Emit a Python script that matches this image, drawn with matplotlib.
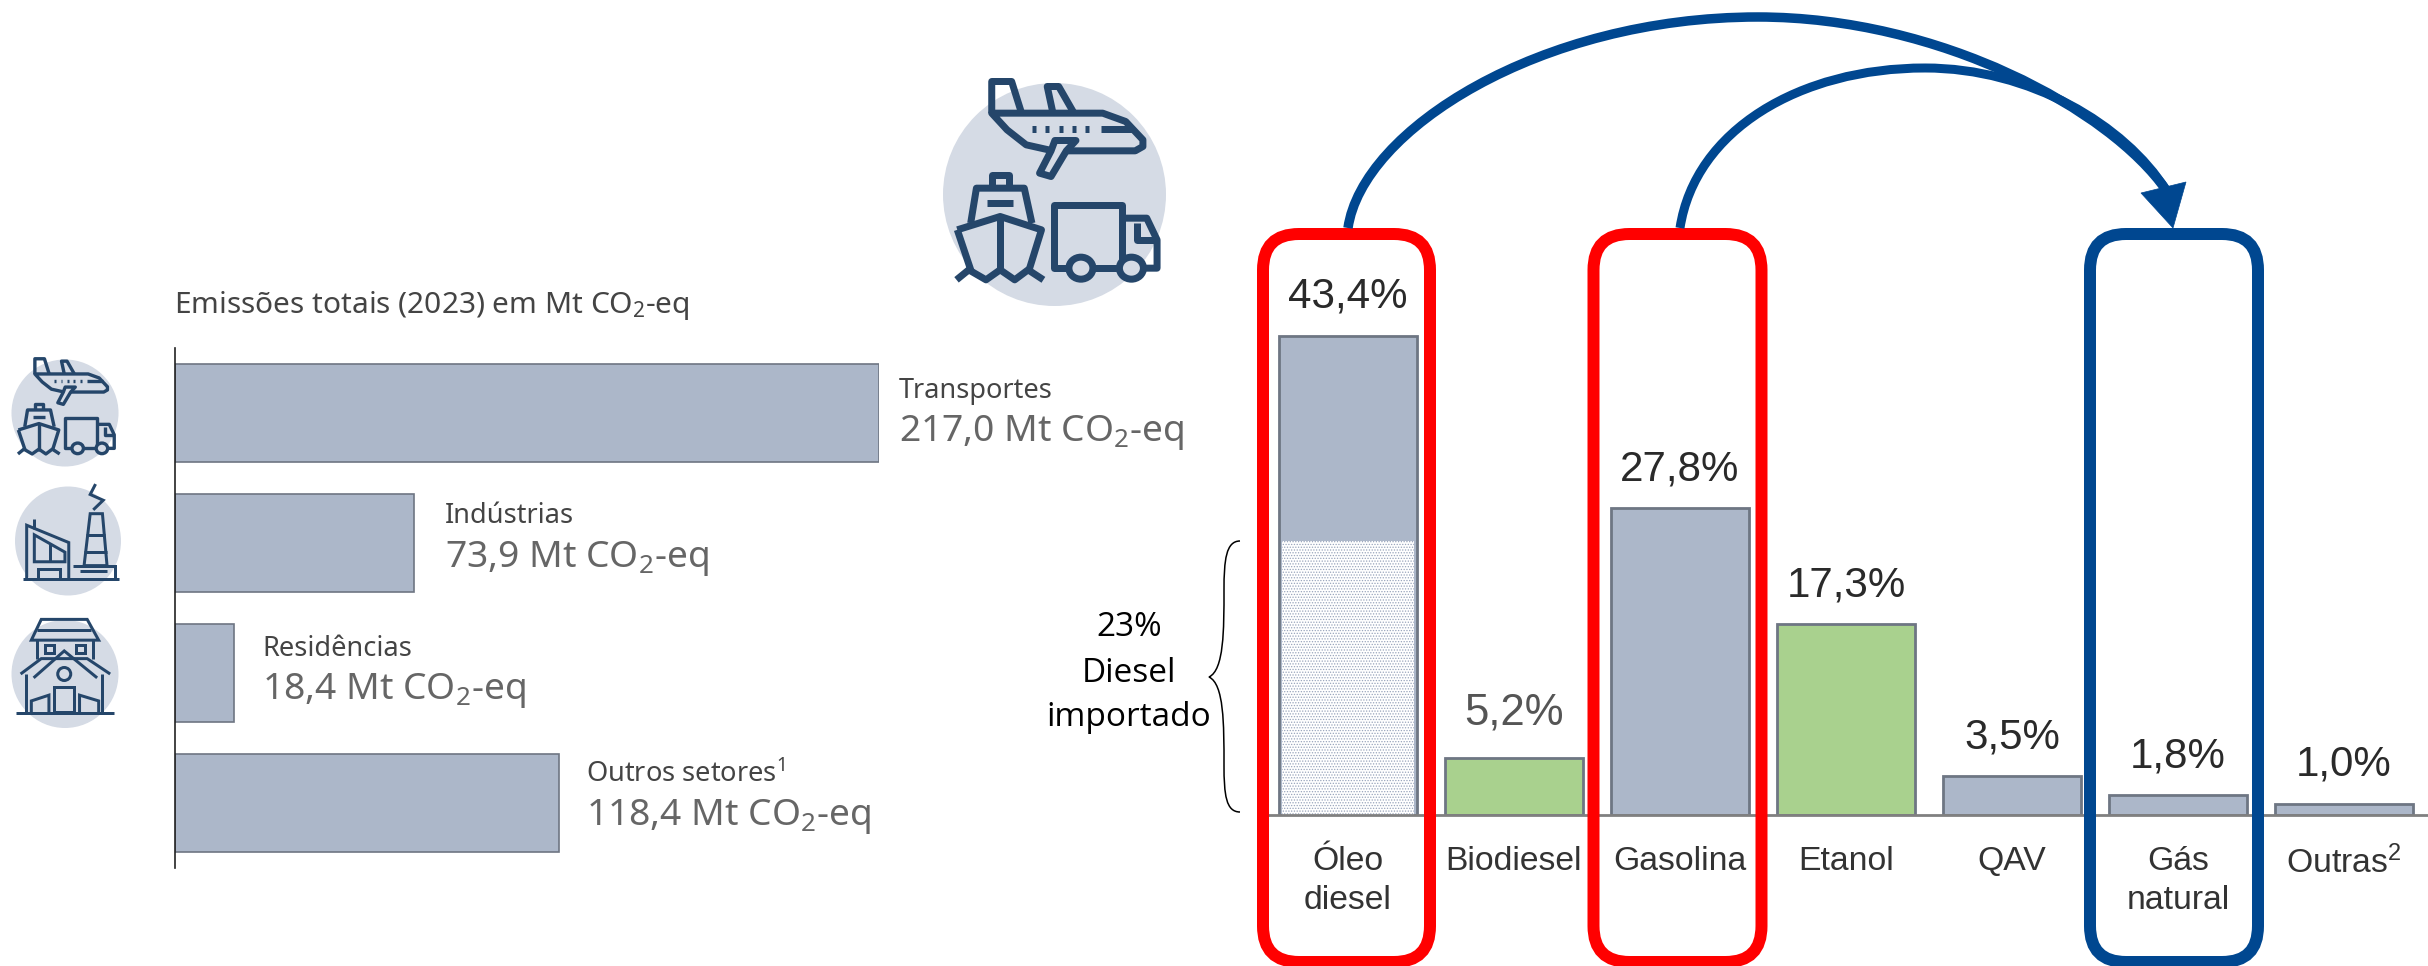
import matplotlib
matplotlib.use('Agg')
from matplotlib import pyplot as plt
from matplotlib.patches import Ellipse, FancyBboxPatch, PathPatch, Polygon
from matplotlib.path import Path

plt.rcParams['mathtext.default'] = 'regular'
plt.rcParams['hatch.linewidth'] = 0.6

sectors = ['Transportes', 'Indústrias', 'Residências', 'Outros setores$^1$']
emissions = [217.0, 73.9, 18.4, 118.4]
emission_labels = ['217,0', '73,9', '18,4', '118,4']

fuels = ['Óleo\ndiesel', 'Biodiesel', 'Gasolina', 'Etanol', 'QAV', 'Gás\nnatural', 'Outras$^2$']
shares = [43.4, 5.2, 27.8, 17.3, 3.5, 1.8, 1.0]
share_labels = ['43,4%', '5,2%', '27,8%', '17,3%', '3,5%', '1,8%', '1,0%']
imported_diesel = 24.8

W, H = 2428, 966
GREY = '#ACB7C9'
EDGE = '#6E7683'
GREEN = '#A9D18E'
BLUE = '#004790'
RED = '#FF0000'
ICON_BG = '#D5DBE5'
ICON = '#25466A'
LEFT_FONT = 'Noto Sans'
RIGHT_FONT = 'Liberation Sans'


def pt(px):
    return px * 0.72


def axes_px(x0, y0, x1, y1):
    return fig.add_axes([x0 / W, 1 - y1 / H, (x1 - x0) / W, (y1 - y0) / H])


fig = plt.figure(figsize=(W / 100, H / 100), dpi=100)

# left chart, total emissions per sector
ax1 = axes_px(174.5, 348, 878.6, 868)
ax1.barh(range(4), emissions, height=0.755, color=GREY, edgecolor=EDGE, linewidth=1.2)
ax1.set_xlim(0, 217)
ax1.set_ylim(3.5, -0.5)
ax1.set_xticks([])
ax1.set_yticks([])
ax1.patch.set_alpha(0)
for s in ['top', 'right', 'bottom']:
    ax1.spines[s].set_visible(False)
ax1.spines['left'].set_linewidth(1.2)
ax1.spines['left'].set_color('#222222')
gaps = [20, 31, 28, 27]
shifts = [-3, 2, -1, 3]
for i in range(4):
    ax1.annotate(sectors[i], (emissions[i], i), xytext=(pt(gaps[i]), pt(25 + shifts[i])),
                 textcoords='offset points', va='center', ha='left',
                 annotation_clip=False, family=LEFT_FONT, fontsize=19.6, color='#444444')
    ax1.annotate(emission_labels[i] + ' Mt CO$_2$-eq', (emissions[i], i),
                 xytext=(pt(gaps[i]), pt(-17 + shifts[i])),
                 textcoords='offset points', va='center', ha='left',
                 annotation_clip=False, family=LEFT_FONT, fontsize=26.8, color='#666666')

# right chart, share per fuel
ax2 = axes_px(1268, 250, 2428, 815)
colors = [GREY, GREEN, GREY, GREEN, GREY, GREY, GREY]
ax2.bar(range(7), shares, width=138 / 166, color=colors, edgecolor=EDGE, linewidth=2)
ax2.bar(0, imported_diesel, width=132 / 166, color='white', edgecolor='#98A4BB',
        hatch='......', linewidth=0)
ax2.set_xlim(-80 / 166, 1160 / 166 - 80 / 166)
ax2.set_ylim(0, 565 / 11.04)
ax2.set_yticks([])
ax2.set_xticks(range(7))
ax2.set_xticklabels(fuels, family=RIGHT_FONT, fontsize=24.3, color='#333333', linespacing=1.33)
ax2.tick_params(axis='x', length=0, pad=pt(31))
ax2.patch.set_alpha(0)
for s in ['top', 'right', 'left']:
    ax2.spines[s].set_visible(False)
ax2.spines['bottom'].set_linewidth(2)
ax2.spines['bottom'].set_color('#808080')
for i in range(7):
    biodiesel = i == 1
    ax2.annotate(share_labels[i], (i, shares[i]), xytext=(0, pt(45 if biodiesel else 39)),
                 textcoords='offset points', ha='center', va='center', family=RIGHT_FONT,
                 fontsize=31.5 if biodiesel else 30.3, color='#555555' if biodiesel else '#2A2A2A')

# overlay in reference pixels: title, icons, boxes, arrows
ov = fig.add_axes([0, 0, 1, 1])
ov.set_xlim(0, W)
ov.set_ylim(H, 0)
ov.axis('off')
ov.patch.set_alpha(0)

ov.text(174, 305, 'Emissões totais (2023) em Mt CO$_2$-eq', family=LEFT_FONT, fontsize=21.5,
        color='#444444', va='center', ha='left', fontweight='medium')
for y, line in zip([628, 673, 718], ['23%', 'Diesel', 'importado']):
    ov.text(1129, y, line, family='Open Sans', fontsize=24, color='black', ha='center', va='center')

brace = Path([(1240, 541), (1226, 541), (1224, 560), (1224, 590),
              (1224, 630), (1224, 670), (1209, 677),
              (1224, 684), (1224, 724), (1224, 765),
              (1224, 795), (1226, 812), (1240, 812)],
             [Path.MOVETO] + [Path.CURVE4] * 12)
ov.add_patch(PathPatch(brace, fc='none', ec='black', lw=1.1))

for x0, x1, col in [(1263, 1430, RED), (1593.5, 1761.5, RED), (2090, 2258, BLUE)]:
    ov.add_patch(FancyBboxPatch((x0, 234), x1 - x0, 728, boxstyle='round,pad=0,rounding_size=36',
                                fc='none', ec=col, lw=pt(12)))

arc1 = Path([(1348, 228), (1362, 130), (1540, 17), (1758, 17),
             (1940, 17), (2110, 110), (2166, 190)],
            [Path.MOVETO] + [Path.CURVE4] * 6)
arc2 = Path([(1680, 228), (1695, 130), (1800, 68), (1925, 68),
             (2030, 68), (2125, 125), (2166, 190)],
            [Path.MOVETO] + [Path.CURVE4] * 6)
ov.add_patch(PathPatch(arc1, fc='none', ec=BLUE, lw=pt(9.5)))
ov.add_patch(PathPatch(arc2, fc='none', ec=BLUE, lw=pt(9)))
ov.add_patch(Polygon([(2173, 228), (2141, 193), (2186, 182)], fc=BLUE, ec=BLUE, lw=0.5))


def transport_icon(cx, cy, s):
    lw = pt(7 * s)

    def p(pts):
        return [((x - 404) / 2.613 * s + cx, (y - 434) / 3 * s + cy) for x, y in pts]

    def line(pts, closed=False, fill='none'):
        ov.add_patch(Polygon(p(pts), closed=closed, fc=fill, ec=ICON, lw=lw, joinstyle='round'))

    ov.add_patch(Ellipse((cx, cy), 223 * s, 223 * s, fc=ICON_BG, ec='none'))
    # plane
    line([(240, 190), (240, 95), (292, 95), (318, 190)])
    line([(400, 190), (385, 110), (415, 110), (455, 190)])
    line([(240, 190), (530, 190), (590, 215), (635, 270), (635, 290), (615, 303), (400, 303),
          (330, 285), (280, 240)], True)
    line([(405, 272), (460, 272), (435, 303), (395, 380), (365, 370), (395, 303)], True, ICON_BG)
    for x in [350, 385, 420, 455, 490]:
        line([(x - 5, 236), (x + 5, 236)])
    line([(525, 236), (610, 236)])
    # ship
    line([(185, 520), (200, 415), (325, 415), (345, 520)])
    line([(240, 410), (240, 375), (285, 375), (285, 410)])
    line([(228, 458), (295, 458)])
    line([(150, 540), (262, 500), (370, 540), (335, 670)])
    line([(150, 540), (188, 670)])
    line([(262, 500), (262, 670)])
    line([(148, 690), (180, 660), (225, 690), (262, 660), (300, 690), (335, 660), (375, 690)])
    # truck
    line([(402, 655), (402, 465), (580, 465), (580, 655)], True)
    line([(580, 505), (645, 505), (672, 570), (672, 655), (580, 655)])
    line([(620, 520), (620, 570), (672, 570)])
    for x in [473, 605]:
        ov.add_patch(Ellipse(p([(x, 655)])[0], 24 * s, 22 * s, fc=ICON_BG, ec=ICON, lw=lw))


def industry_icon(cx, cy):
    lw = pt(3)

    def line(pts, closed=False):
        q = [((x - 89) / 1.3067 + cx, (y - 706) / 2.6 + cy) for x, y in pts]
        ov.add_patch(Polygon(q, closed=closed, fc='none', ec=ICON, lw=lw))

    ov.add_patch(Ellipse((cx, cy), 106, 109, fc=ICON_BG, ec='none'))
    line([(125, 558), (118, 585), (135, 600), (122, 625)])
    line([(118, 635), (134, 635), (140, 770), (110, 770)], True)
    line([(112, 690), (138, 690)])
    line([(110, 735), (140, 735)])
    line([(35, 805), (35, 665), (90, 710), (90, 805)])
    line([(45, 690), (85, 735), (85, 760), (45, 760)], True)
    line([(65, 710), (65, 760)])
    line([(30, 805), (155, 805)])
    line([(95, 770), (150, 770), (150, 805)])
    line([(50, 805), (50, 780), (78, 780), (78, 805)])
    line([(105, 785), (140, 785)])
    line([(45, 650), (45, 675)])


def house_icon(cx, cy):
    lw = pt(3)

    def line(pts, closed=False, fill='none'):
        q = [((x - 86) / 1.3067 + cx, (y - 1050) / 2.6 + cy) for x, y in pts]
        ov.add_patch(Polygon(q, closed=closed, fc=fill, ec=ICON, lw=lw))

    ov.add_patch(Ellipse((cx, cy), 107, 108, fc=ICON_BG, ec='none'))
    line([(55, 908), (115, 908), (130, 962), (42, 962)], True)
    line([(50, 935), (120, 935)])
    line([(50, 962), (50, 1010)])
    line([(122, 962), (122, 1010)])
    line([(60, 975), (72, 975), (72, 995), (60, 995)], True)
    line([(100, 975), (112, 975), (112, 995), (100, 995)], True)
    line([(28, 1050), (55, 1010), (115, 1010), (145, 1050)])
    line([(45, 1060), (85, 990), (128, 1060)])
    line([(35, 1150), (35, 1050)])
    line([(135, 1150), (135, 1050)])
    line([(22, 1152), (150, 1152)])
    line([(72, 1150), (72, 1085), (98, 1085), (98, 1150)], True)
    line([(42, 1150), (42, 1120), (65, 1105), (65, 1150)])
    line([(105, 1150), (105, 1105), (130, 1120), (130, 1150)])
    q = ((85 - 86) / 1.3067 + cx, (1050 - 1050) / 2.6 + cy)
    ov.add_patch(Ellipse(q, 13, 13, fc='none', ec=ICON, lw=lw))


transport_icon(1054.5, 194.5, 1.0)
transport_icon(65, 413, 0.48)
industry_icon(68, 541)
house_icon(65, 674)

fig.savefig('out.png', dpi=100)
